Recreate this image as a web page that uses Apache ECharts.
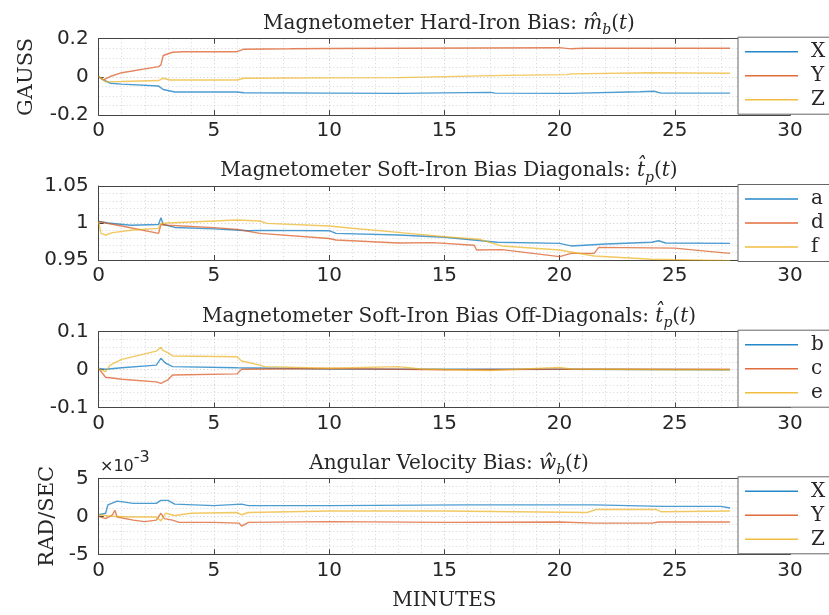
<!DOCTYPE html>
<html>
<head>
<meta charset="utf-8">
<script src="https://cdn.jsdelivr.net/npm/echarts@6/dist/echarts.min.js"></script>
<style>
  html, body { margin: 0; padding: 0; background: #fff; }
  #chart { width: 829px; height: 615px; }
</style>
</head>
<body>
<div id="chart"></div>
<script>
// Time samples are [minutes, value] pairs for each estimated state.

// Magnetometer hard-iron bias (gauss)
const hardX = [[0,0],[0.15,-0.012],[0.5,-0.033],[1,-0.038],[2.6,-0.048],[2.8,-0.066],[3.3,-0.079],[6,-0.079],[6.3,-0.083],[10,-0.085],[13,-0.086],[17,-0.081],[17.2,-0.085],[20.4,-0.086],[23.5,-0.078],[24.1,-0.075],[24.4,-0.085],[27.4,-0.085]];
const hardY = [[0,0.002],[0.2,-0.016],[0.5,0.002],[1,0.022],[2.6,0.054],[2.7,0.063],[2.8,0.112],[3.2,0.129],[3.7,0.132],[6,0.132],[6.3,0.145],[8.3,0.147],[10,0.149],[13,0.150],[20,0.153],[20.5,0.147],[21,0.150],[27.4,0.150]];
const hardZ = [[0,0.004],[0.3,-0.026],[1,-0.024],[2.6,-0.019],[2.8,-0.007],[3.1,-0.016],[6,-0.016],[6.3,-0.007],[10,-0.005],[13,-0.004],[17.7,0.008],[20.3,0.012],[20.5,0.016],[24,0.022],[27.4,0.019]];

// Soft-iron bias, diagonal terms
const softA = [[0,1.002],[0.4,1.0],[1.4,0.997],[2.6,0.998],[2.7,1.007],[2.8,0.998],[3.3,0.994],[5,0.992],[6.5,0.9896],[7,0.990],[10,0.9896],[10.3,0.986],[13,0.9838],[15,0.9807],[17.3,0.974],[20,0.9725],[20.5,0.969],[22,0.9716],[24,0.974],[24.3,0.976],[24.6,0.973],[27.4,0.9725]];
const softD = [[0,1.002],[0.3,1.0],[1,0.996],[2.6,0.986],[2.7,0.998],[3,0.997],[5,0.9937],[6,0.9914],[7,0.986],[10,0.979],[10.3,0.977],[13,0.9730],[14.5,0.9735],[16.3,0.970],[16.4,0.9635],[17.5,0.964],[20,0.9545],[20.5,0.959],[21.5,0.959],[21.7,0.967],[25,0.966],[26,0.963],[27.4,0.959]];
const softF = [[0,1.002],[0.1,0.986],[0.3,0.9838],[0.6,0.987],[1.5,0.9905],[2.6,0.9928],[2.7,0.9995],[3,1.0],[5,1.0027],[6,1.004],[7,1.0027],[7.3,0.9995],[10,0.996],[11,0.993],[13,0.9874],[15,0.9815],[16.5,0.978],[17.5,0.969],[20,0.9635],[21.5,0.9554],[24,0.951],[27.4,0.949]];

// Soft-iron bias, off-diagonal terms
const softB = [[0,0.003],[0.3,0.001],[1,0.005],[2.5,0.012],[2.7,0.030],[2.9,0.017],[3.2,0.008],[6,0.005],[10,0.002],[14,0.001],[20,0.001],[27.4,0.0]];
const softC = [[0,0.003],[0.3,-0.020],[1,-0.025],[2.5,-0.032],[2.7,-0.036],[3,-0.027],[3.2,-0.014],[6,-0.011],[6.2,0.001],[10,0.003],[15,0.0],[20,0.001],[27.4,0.001]];
const softE = [[0,0.003],[0.3,-0.005],[0.5,0.012],[1,0.027],[2.5,0.049],[2.7,0.059],[2.8,0.050],[3,0.045],[3.2,0.036],[6,0.034],[6.2,0.023],[7,0.012],[7.2,0.008],[10,0.004],[13,0.008],[14,0.002],[17,-0.002],[20,0.006],[20.5,0.002],[25,0.0],[27.4,0.0]];

// Angular velocity bias (rad/sec)
const gyroX = [[0,0.0002],[0.3,0.0004],[0.4,0.0015],[0.8,0.0020],[1.5,0.0017],[2.5,0.0017],[2.7,0.0021],[3.0,0.0021],[3.3,0.0016],[5,0.0014],[6.2,0.0016],[6.5,0.0014],[10,0.0014],[16,0.0015],[21.5,0.0015],[24.5,0.0013],[27,0.0013],[27.4,0.0011]];
const gyroY = [[0,0],[0.3,-0.0003],[0.6,0.0002],[0.7,0.0008],[0.8,-0.0001],[1.5,-0.0005],[2,-0.0007],[2.5,-0.0005],[2.7,0.0004],[2.85,-0.0003],[3.2,-0.0005],[3.5,-0.0008],[5,-0.0008],[6.1,-0.0009],[6.2,-0.0013],[6.5,-0.0008],[10,-0.0007],[15,-0.0008],[20,-0.00075],[21.5,-0.0009],[24,-0.0009],[24.3,-0.00075],[27.4,-0.00075]];
const gyroZ = [[0,0.0002],[0.5,0],[1.5,-0.0001],[2.5,-0.0001],[2.7,-0.0006],[2.9,0.0004],[3.3,0.0001],[4,0.0004],[6,0.0005],[6.2,0.0002],[6.5,0.0005],[10,0.0007],[15,0.0007],[21.2,0.0005],[21.6,0.0009],[24.2,0.0009],[24.4,0.0006],[27.4,0.0007]];

const panelTitles = [
  '{n|Magnetometer Hard-Iron Bias: }{i|m\u0302}{s|b}{n|(}{i|t}{n|)}',
  '{n|Magnetometer Soft-Iron Bias Diagonals: }{i|t\u0302}{s|p}{n|(}{i|t}{n|)}',
  '{n|Magnetometer Soft-Iron Bias Off-Diagonals: }{i|t\u0302}{s|p}{n|(}{i|t}{n|)}',
  '{n|Angular Velocity Bias: }{i|\u0175}{s|b}{n|(}{i|t}{n|)}'
];
const legendNames = [['X','Y','Z'], ['a','d','f'], ['b','c','e'], ['X','Y','Z']];
const panelData = [[hardX, hardY, hardZ], [softA, softD, softF], [softB, softC, softE], [gyroX, gyroY, gyroZ]];
const yRanges = [[-0.2, 0.2, 0.2], [0.95, 1.05, 0.05], [-0.1, 0.1, 0.1], [-0.005, 0.005, 0.005]];
const xTicks = [0, 30, 5];

const colors = ['#0072BD', '#D95319', '#EDB120'];
const ink = '#262626';
const serif = '"DejaVu Serif", "Liberation Serif", serif';
const sans = '"DejaVu Sans", sans-serif';

const plotLeft = 98.7, plotRight = 39;
const panelTops = [38.7, 186, 331.7, 478.3];
const panelHeights = [76.4, 74, 76, 76];

const grid = [], xAxis = [], yAxis = [], series = [], legend = [], title = [];
const dotted = [1, 2.5];

panelTops.forEach((top, p) => {
  grid.push({ left: plotLeft, right: plotRight, top: top, height: panelHeights[p], containLabel: false });
  const [ymin, ymax, yint] = yRanges[p];
  // bottom x axis with labels and grid
  xAxis.push({
    type: 'value', gridIndex: p, min: xTicks[0], max: xTicks[1], interval: xTicks[2],
    axisLine: { show: true, onZero: false, lineStyle: { color: '#444', width: 1 } },
    axisTick: { show: true, inside: true, length: 5, lineStyle: { color: '#444' } },
    axisLabel: { show: true, color: ink, fontFamily: sans, fontSize: 20, margin: 6 },
    splitLine: { show: true, lineStyle: { color: '#c8c8c8', type: dotted, width: 1 } },
    minorTick: { show: false, splitNumber: 5 },
    minorSplitLine: { show: true, lineStyle: { color: '#d6d6d6', type: dotted, width: 1 } },
    name: p === 3 ? 'MINUTES' : '', nameLocation: 'middle', nameGap: 36,
    nameTextStyle: { fontFamily: serif, fontSize: 20, color: ink }
  });
  // top frame edge
  xAxis.push({
    type: 'value', gridIndex: p, position: 'top', min: xTicks[0], max: xTicks[1], interval: xTicks[2],
    axisLine: { show: true, onZero: false, lineStyle: { color: '#444', width: 1 } },
    axisTick: { show: true, inside: true, length: 5, lineStyle: { color: '#444' } },
    axisLabel: { show: false }, splitLine: { show: false }
  });
  yAxis.push({
    type: 'value', gridIndex: p, min: ymin, max: ymax, interval: yint,
    axisLine: { show: true, onZero: false, lineStyle: { color: '#444', width: 1 } },
    axisTick: { show: true, inside: true, length: 5, lineStyle: { color: '#444' } },
    axisLabel: {
      show: true, color: ink, fontFamily: sans, fontSize: 20, margin: 10,
      formatter: p === 3 ? (v => String(Math.round(v * 1000))) : (v => String(+v.toFixed(2)))
    },
    splitLine: { show: true, lineStyle: { color: '#c8c8c8', type: dotted, width: 1 } },
    minorTick: { show: false, splitNumber: p === 0 ? 4 : 5 },
    minorSplitLine: { show: true, lineStyle: { color: '#d6d6d6', type: dotted, width: 1 } },
    name: p === 0 ? 'GAUSS' : (p === 3 ? 'RAD/SEC' : ''), nameLocation: 'middle',
    nameGap: p === 0 ? 62 : 36,
    nameTextStyle: { fontFamily: serif, fontSize: 21, color: ink }
  });
  // right frame edge
  yAxis.push({
    type: 'value', gridIndex: p, position: 'right', min: ymin, max: ymax, interval: yint,
    axisLine: { show: true, onZero: false, lineStyle: { color: '#444', width: 1 } },
    axisTick: { show: true, inside: true, length: 5, lineStyle: { color: '#444' } },
    axisLabel: { show: false }, splitLine: { show: false }
  });

  panelData[p].forEach((data, k) => {
    series.push({
      type: 'line', name: legendNames[p][k], xAxisIndex: 2 * p, yAxisIndex: 2 * p,
      data: data, symbol: 'none', showSymbol: false, clip: true, animation: false,
      color: colors[k],
      lineStyle: { color: colors[k], width: 1.4, opacity: 0.7 },
      z: 3
    });
  });

  legend.push({
    data: legendNames[p].map(n => ({ name: n })),
    orient: 'vertical', left: 738, top: top - 1.5,
    icon: 'rect', itemWidth: 53, itemHeight: 1.6, itemGap: 4,
    itemStyle: { opacity: 0.85 },
    padding: [4.5, 30, 4.5, 7],
    backgroundColor: '#fff', borderColor: '#666', borderWidth: 1,
    textStyle: { fontFamily: serif, fontSize: 20, color: ink, padding: [0, 0, 0, 8] },
    selectedMode: false, z: 10
  });

  title.push({
    text: panelTitles[p], left: 444, textAlign: 'center', top: top - 30,
    textStyle: {
      fontWeight: 'normal',
      rich: {
        n: { fontFamily: serif, fontSize: 20, fontWeight: 'normal', color: ink, lineHeight: 26, verticalAlign: 'top' },
        i: { fontFamily: serif, fontSize: 20, fontWeight: 'normal', fontStyle: 'italic', color: ink, lineHeight: 26, verticalAlign: 'top' },
        s: { fontFamily: serif, fontSize: 14, fontWeight: 'normal', fontStyle: 'italic', color: ink, lineHeight: 18, padding: [10, 0, 0, 0], verticalAlign: 'top' }
      }
    }
  });
});

const chart = echarts.init(document.getElementById('chart'), null, { renderer: 'canvas' });
chart.setOption({
  animation: false,
  backgroundColor: '#fff',
  title: title,
  grid: grid,
  xAxis: xAxis,
  yAxis: yAxis,
  legend: legend,
  series: series,
  graphic: [{
    type: 'text', left: 100, top: 450,
    style: {
      text: '{a|\u00d710}{b|-3}',
      rich: {
        a: { fontFamily: sans, fontSize: 16, fill: ink, padding: [9, 0, 0, 0], verticalAlign: 'top' },
        b: { fontFamily: sans, fontSize: 16, fill: ink, verticalAlign: 'top' }
      }
    }
  }]
});
</script>
</body>
</html>
